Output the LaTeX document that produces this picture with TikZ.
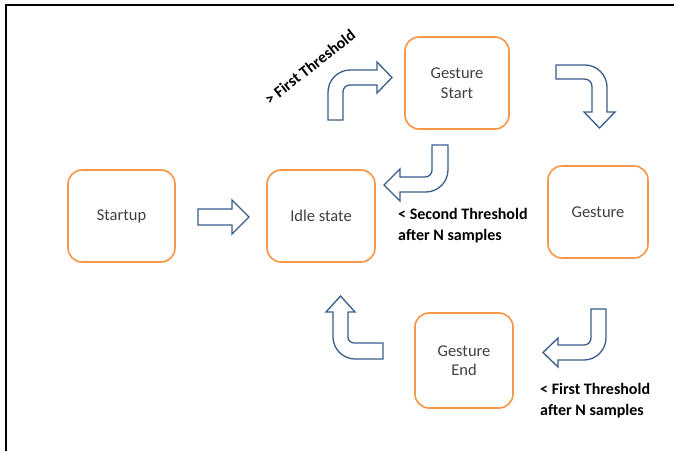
\documentclass[tikz,border=0pt]{standalone}
\usepackage{fontspec}
\setmainfont{Carlito}
\begin{document}
\begin{tikzpicture}[x=1pt,y=-1pt,
  statebox/.style={draw=boxorange,line width=1.6pt,rounded corners=14pt,fill=white,
    minimum width=#1,minimum height=92pt,inner sep=0pt,align=center,
    font=\fontsize{16.5}{19.5}\selectfont,text=textgray},
  statebox/.default=104pt,
  blockarrow/.style={draw=arrowblue,line width=1.3pt,fill=white,line join=miter},
  note/.style={font=\bfseries\fontsize{16}{21}\selectfont,text=black,align=left,inner sep=0pt}]
\definecolor{boxorange}{HTML}{F79646}
\definecolor{arrowblue}{HTML}{385D8A}
\definecolor{textgray}{HTML}{404040}
\useasboundingbox (0,0) rectangle (674,451);
% frame
\draw[line width=1.6pt,black] (6,451) -- (6,5) -- (674,5);
% states
\node[statebox=107pt] (startup) at (121.5,216) {Startup};
\node[statebox=108pt] (idle) at (321,216) {Idle state};
\node[statebox=104pt] (gstart) at (457,83) {Gesture\\Start};
\node[statebox=100pt] (gesture) at (598,212) {Gesture};
\node[statebox=98pt,minimum height=95pt] (gend) at (464,360.5) {Gesture\\End};
% block arrows
% Startup -> Idle
\draw[blockarrow] (198,209) -- (232,209) -- (232,200) -- (249,217) -- (232,234) -- (232,225) -- (198,225) -- cycle;
% up then right, to Gesture Start
\draw[blockarrow] (328,120) -- (328,92) .. controls (328,80) and (338,70) .. (350,70) -- (377,70) -- (377,62) -- (392,77.5) -- (377,93) -- (377,85) -- (350,85) .. controls (346,85) and (343,88) .. (343,92) -- (343,120) -- cycle;
% right then down, to Gesture
\draw[blockarrow] (556,65) -- (585,65) .. controls (597,65) and (607,75) .. (607,87) -- (607,112) -- (615,112) -- (599.5,128) -- (584,112) -- (592,112) -- (592,87) .. controls (592,82) and (589,79) .. (584,79) -- (556,79) -- cycle;
% down then left, to Idle
\draw[blockarrow] (432,145) -- (448,145) -- (448,170) .. controls (448,182) and (438,192) .. (426,192) -- (400,192) -- (400,201) -- (384,185) -- (400,169) -- (400,177) -- (425,177) .. controls (429,177) and (432,174) .. (432,170) -- cycle;
% down then left, to Gesture End
\draw[blockarrow] (591,309) -- (606,309) -- (606,338) .. controls (606,350) and (596,360) .. (584,360) -- (558,360) -- (558,367) -- (543,352.5) -- (558,338) -- (558,345) -- (584,345) .. controls (588,345) and (591,342) .. (591,338) -- cycle;
% left then up, to Idle
\draw[blockarrow] (383,343) -- (383,359) -- (355,359) .. controls (343,359) and (333,349) .. (333,337) -- (333,312) -- (326,312) -- (340.5,296) -- (355,312) -- (348,312) -- (348,337) .. controls (348,341) and (351,343) .. (355,343) -- cycle;
% labels
\node[note,rotate=38] (l1) at (310,67) {> First Threshold};
\node[note,anchor=west] (l2) at (398,225.5) {< Second Threshold\\after N samples};
\node[note,anchor=west] (l3) at (540,400.5) {< First Threshold\\after N samples};
\end{tikzpicture}
\end{document}
